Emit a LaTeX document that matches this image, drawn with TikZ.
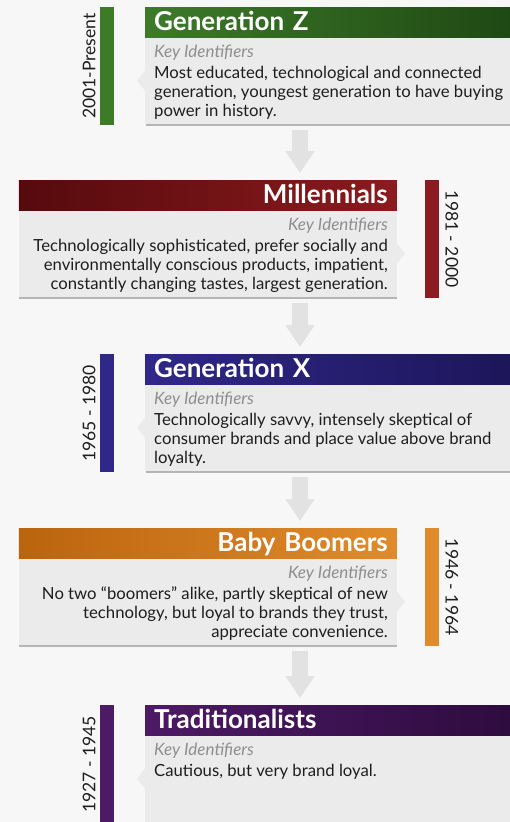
\documentclass[tikz,border=0pt]{standalone}
\usepackage{fontspec}
\setmainfont{Lato}
\usetikzlibrary{shadows, arrows.meta, positioning}

\definecolor{pagebg}{HTML}{F7F7F7}
\definecolor{bodygray}{HTML}{EBEBEB}
\definecolor{flowgray}{HTML}{E2E2E2}
\definecolor{keygray}{HTML}{8E8E8E}
\definecolor{inkgray}{HTML}{1E1E1E}
\definecolor{gzA}{HTML}{3D7B29}  \definecolor{gzB}{HTML}{1E4713}
\definecolor{milA}{HTML}{8B1B1E} \definecolor{milB}{HTML}{560A0D}
\definecolor{gxA}{HTML}{2F2888}  \definecolor{gxB}{HTML}{1D1559}
\definecolor{bbA}{HTML}{E08B2B}  \definecolor{bbB}{HTML}{BB640F}
\definecolor{trA}{HTML}{4D1A65}  \definecolor{trB}{HTML}{2D0B3E}

\newcommand\keyid{{\color{keygray}\fontsize{17}{19}\selectfont\itshape Key Identifiers}\\[2pt]}

\tikzset{
  head/.style={inner xsep=9pt, inner ysep=0pt, minimum height=30pt, text width=360pt,
    text height=18pt, text depth=1pt, text=white, font=\fontsize{26}{28}\selectfont\bfseries},
  body/.style={fill=bodygray, inner xsep=9pt, inner ysep=5pt, text=inkgray,
    font=\fontsize{16.7}{19}\selectfont,
    drop shadow={shadow xshift=0.5pt, shadow yshift=-2.5pt, opacity=0.45, fill=black!60}},
  bar/.style={inner sep=0pt, minimum width=14pt, minimum height=118pt},
  datetext/.style={inner sep=0pt, text=inkgray, font=\fontsize{17.5}{19}\selectfont},
  flow/.style={draw=flowgray, line width=16pt, -{Triangle[width=28pt,length=22pt]},
    shorten <=6pt, shorten >=7pt}
}

\begin{document}
\begin{tikzpicture}[x=1pt, y=-1pt]
  \useasboundingbox (0,0) rectangle (510,822);
  \clip (0,0) rectangle (510,822);
  \fill[pagebg] (0,0) rectangle (510,822);
  % date bar on the left, box on the right
  \def\genleft[#1,#2]#3#4#5{
    \node[head, anchor=north west, align=left, left color=#1A, right color=#1B] (head-#1) at (145,#2) {#3};
    \node[body, anchor=north west] (body-#1) at (head-#1.south west)
      {\parbox[t][76pt][t]{360pt}{\vspace*{2pt}\raggedright\keyid#5}};
    \fill[bodygray] ([yshift=10pt]body-#1.west) -- ([xshift=-8pt]body-#1.west) -- ([yshift=-10pt]body-#1.west) -- cycle;
    \node[bar, fill=#1A, anchor=north east] (bar-#1) at ([xshift=-31pt]head-#1.north west) {};
    \node[datetext, rotate=90, anchor=south] (date-#1) at ([xshift=-4pt]bar-#1.west) {#4};
  }
  % box on the left, date bar on the right
  \def\genright[#1,#2]#3#4#5{
    \node[head, anchor=north east, align=right, left color=#1B, right color=#1A] (head-#1) at (397,#2) {#3};
    \node[body, anchor=north east] (body-#1) at (head-#1.south east)
      {\parbox[t][76pt][t]{360pt}{\vspace*{2pt}\raggedleft\keyid#5}};
    \fill[bodygray] ([yshift=10pt]body-#1.east) -- ([xshift=8pt]body-#1.east) -- ([yshift=-10pt]body-#1.east) -- cycle;
    \node[bar, fill=#1A, anchor=north west] (bar-#1) at ([xshift=28pt]head-#1.north east) {};
    \node[datetext, rotate=-90, anchor=south] (date-#1) at ([xshift=6pt]bar-#1.east) {#4};
  }

  \genleft[gz,7]{Generation Z}{2001-Present}{Most educated, technological and connected\\
    generation, youngest generation to have buying\\ power in history.}
  \genright[mil,180]{Millennials}{1981 - 2000}{Technologically sophisticated, prefer socially and\\
    environmentally conscious products, impatient,\\ constantly changing tastes, largest generation.}
  \genleft[gx,354]{Generation X}{1965 - 1980}{Technologically savvy, intensely skeptical of\\
    consumer brands and place value above brand\\ loyalty.}
  \genright[bb,528]{Baby Boomers}{1946 - 1964}{No two “boomers” alike, partly skeptical of new\\
    technology, but loyal to brands they trust,\\ appreciate convenience.}
  \genleft[tr,705]{Traditionalists}{1927 - 1945}{Cautious, but very brand loyal.}

  % arrows between the generations
  \coordinate (axis) at (300,0);
  \foreach \a/\b in {gz/mil, mil/gx, gx/bb, bb/tr}
    \draw[flow] (body-\a.south -| axis) -- (head-\b.north -| axis);
\end{tikzpicture}
\end{document}
